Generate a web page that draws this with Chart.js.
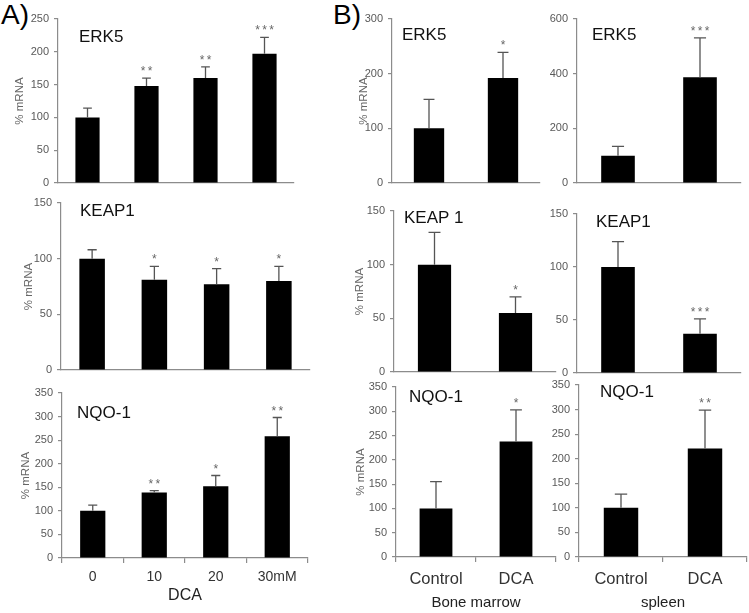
<!DOCTYPE html>
<html>
<head>
<meta charset="utf-8">
<script src="https://cdn.jsdelivr.net/npm/chart.js@4.4.0/dist/chart.umd.min.js"></script>
<style>
  body { margin: 0; background: #fff; }
  #fig { position: relative; width: 749px; height: 613px; overflow: hidden; font-family: "Liberation Sans", Arial, sans-serif; }
  #fig canvas { position: absolute; }
  .tag { position: absolute; font-size: 28px; line-height: 28px; color: #000; }
</style>
</head>
<body>
<div id="fig">
  <div class="tag" style="left:1px;top:1px">A)</div>
  <div class="tag" style="left:333px;top:1px">B)</div>
</div>
<script>
// categories
const doseLabels = ['0', '10', '20', '30mM'];
const groupLabels = ['Control', 'DCA'];

// A) DCA dose series: mean, error (SEM), significance
const aErk5 = [100, 148, 160, 197];
const aErk5Err = [14, 12, 17, 25];
const aErk5Sig = ['', '**', '**', '***'];
const aKeap1 = [100, 81, 77, 80];
const aKeap1Err = [8, 12, 14, 13];
const aKeap1Sig = ['', '*', '*', '*'];
const aNqo1 = [100, 139, 152, 258];
const aNqo1Err = [12, 4, 23, 40];
const aNqo1Sig = ['', '**', '*', '**'];

// B) bone marrow
const bmErk5 = [100, 192];
const bmErk5Err = [53, 47];
const bmErk5Sig = ['', '*'];
const bmKeap1 = [100, 55];
const bmKeap1Err = [30, 15];
const bmKeap1Sig = ['', '*'];
const bmNqo1 = [100, 238];
const bmNqo1Err = [55, 65];
const bmNqo1Sig = ['', '*'];

// B) spleen
const spErk5 = [100, 387];
const spErk5Err = [34, 144];
const spErk5Sig = ['', '***'];
const spKeap1 = [100, 37];
const spKeap1Err = [24, 14];
const spKeap1Sig = ['', '***'];
const spNqo1 = [100, 221];
const spNqo1Err = [28, 78];
const spNqo1Sig = ['', '**'];

// y tick labels
const ticksA250 = [0, 50, 100, 150, 200, 250];
const ticks150 = [0, 50, 100, 150];
const ticks350 = [0, 50, 100, 150, 200, 250, 300, 350];
const ticks300 = [0, 100, 200, 300];
const ticks600 = [0, 200, 400, 600];

const FONT = '"Liberation Sans", Arial, sans-serif';
Chart.defaults.font.family = FONT;

const axisCol = '#8c8c8c';
const tickCol = '#595959';

// plot = [left, top, right, bottom] of the chart area in page pixels
const panels = [
  { title: 'ERK5', labels: doseLabels, values: aErk5, errors: aErk5Err, stars: aErk5Sig, ticks: ticksA250,
    plot: [58, 19, 294, 183], titleAt: [21, 23], yGap: 38 },
  { title: 'KEAP1', labels: doseLabels, values: aKeap1, errors: aKeap1Err, stars: aKeap1Sig, ticks: ticks150,
    plot: [61, 203, 310, 370], titleAt: [19, 13], yGap: 32 },
  { title: 'NQO-1', labels: doseLabels, values: aNqo1, errors: aNqo1Err, stars: aNqo1Sig, ticks: ticks350,
    plot: [62, 393, 308, 558], titleAt: [15, 25], yGap: 36,
    xTitle: 'DCA', xFont: 14, xPad: 6, xTitleFont: 16, xH: 49, xTitlePad: 2 },
  { title: 'ERK5', labels: groupLabels, values: bmErk5, errors: bmErk5Err, stars: bmErk5Sig, ticks: ticks300,
    plot: [392, 19, 540, 183], titleAt: [10, 21], yGap: 28 },
  { title: 'ERK5', labels: groupLabels, values: spErk5, errors: spErk5Err, stars: spErk5Sig, ticks: ticks600,
    plot: [577, 19, 741, 183], titleAt: [15, 21] },
  { title: 'KEAP 1', labels: groupLabels, values: bmKeap1, errors: bmKeap1Err, stars: bmKeap1Sig, ticks: ticks150,
    plot: [394, 211, 556, 372], titleAt: [10, 12], yGap: 34 },
  { title: 'KEAP1', labels: groupLabels, values: spKeap1, errors: spKeap1Err, stars: spKeap1Sig, ticks: ticks150,
    plot: [577, 214, 741, 373], titleAt: [19, 13] },
  { title: 'NQO-1', labels: groupLabels, values: bmNqo1, errors: bmNqo1Err, stars: bmNqo1Sig, ticks: ticks350,
    plot: [396, 387, 556, 557], titleAt: [13, 15], yGap: 35,
    xTitle: 'Bone marrow', xFont: 16.5, xPad: 8, xTitleFont: 15, xH: 56, xTitlePad: 1 },
  { title: 'NQO-1', labels: groupLabels, values: spNqo1, errors: spNqo1Err, stars: spNqo1Sig, ticks: ticks350,
    plot: [579, 385, 747, 557], titleAt: [21, 12],
    xTitle: 'spleen', xFont: 16.5, xPad: 8, xTitleFont: 15, xH: 56, xTitlePad: 1 },
];

const fig = document.getElementById('fig');

function makePanel(p) {
  const [pl, pt, pr, pb] = p.plot;
  const hasY = p.yGap !== undefined;
  const bottomRow = !!p.xTitle;
  const yW = hasY ? 46 : 30;
  const padTop = Math.min(14, pt);
  const padRight = 2;
  // room under the axis must cover half of the "0" label plus its padding
  const xH = bottomRow ? p.xH : 14;
  const titleLH = 11.5 * 1.2;

  const canvas = document.createElement('canvas');
  canvas.width = yW + (pr - pl) + padRight;
  canvas.height = padTop + (pb - pt) + xH;
  canvas.style.left = (pl - yW) + 'px';
  canvas.style.top = (pt - padTop) + 'px';
  fig.appendChild(canvas);

  // error bars, significance stars and the panel title
  const extras = {
    id: 'extras',
    afterDatasetsDraw(chart) {
      const ctx = chart.ctx;
      const y = chart.scales.y;
      const meta = chart.getDatasetMeta(0);
      ctx.save();
      meta.data.forEach(function(bar, i) {
        const yTop = y.getPixelForValue(p.values[i] + p.errors[i]);
        const cap = bar.width * 0.18;
        ctx.strokeStyle = '#555';
        ctx.lineWidth = 1.3;
        ctx.beginPath();
        ctx.moveTo(bar.x, bar.y);
        ctx.lineTo(bar.x, yTop);
        ctx.moveTo(bar.x - cap, yTop);
        ctx.lineTo(bar.x + cap, yTop);
        ctx.stroke();

        const s = p.stars[i];
        if (s) {
          ctx.fillStyle = '#666';
          ctx.font = '12px ' + FONT;
          ctx.textAlign = 'center';
          ctx.textBaseline = 'alphabetic';
          const n = s.length;
          for (let k = 0; k < n; k++) {
            ctx.fillText('*', bar.x + (k - (n - 1) / 2) * 7, yTop - 3);
          }
        }
      });
      ctx.fillStyle = '#111';
      ctx.font = '17px ' + FONT;
      ctx.textAlign = 'left';
      ctx.textBaseline = 'alphabetic';
      ctx.fillText(p.title, chart.chartArea.left + p.titleAt[0], chart.chartArea.top + p.titleAt[1]);
      ctx.restore();
    }
  };

  new Chart(canvas, {
    type: 'bar',
    data: {
      labels: p.labels,
      datasets: [{
        data: p.values,
        backgroundColor: '#000',
        borderWidth: 0,
        barPercentage: 0.41,
        categoryPercentage: 1,
      }],
    },
    options: {
      responsive: false,
      animation: false,
      layout: { padding: { top: padTop, right: padRight, left: 0, bottom: 0 } },
      plugins: { legend: { display: false }, tooltip: { enabled: false } },
      scales: {
        x: {
          border: { color: axisCol, width: 1.2 },
          grid: { drawOnChartArea: false, drawTicks: bottomRow, tickLength: 5, color: axisCol, lineWidth: 1.2 },
          ticks: { display: bottomRow, color: '#333', font: { size: p.xFont || 14 }, padding: p.xPad || 0, maxRotation: 0 },
          title: {
            display: bottomRow, text: p.xTitle || '', color: '#222',
            font: { size: p.xTitleFont || 15 }, padding: { top: 0, bottom: p.xTitlePad || 0 },
          },
          afterFit(scale) { scale.height = xH; },
        },
        y: {
          min: p.ticks[0],
          max: p.ticks[p.ticks.length - 1],
          border: { color: axisCol, width: 1.2 },
          grid: { drawOnChartArea: false, drawTicks: true, tickLength: 4, color: axisCol, lineWidth: 1.2 },
          ticks: { stepSize: p.ticks[1] - p.ticks[0], color: tickCol, font: { size: 11 }, padding: 5 },
          title: {
            display: hasY, text: '% mRNA', color: '#666', font: { size: 11.5 },
            padding: { top: hasY ? yW - titleLH / 2 - p.yGap : 0, bottom: 0 },
          },
          afterFit(scale) { scale.width = yW; },
        },
      },
    },
    plugins: [extras],
  });
}

panels.forEach(makePanel);
</script>
</body>
</html>
